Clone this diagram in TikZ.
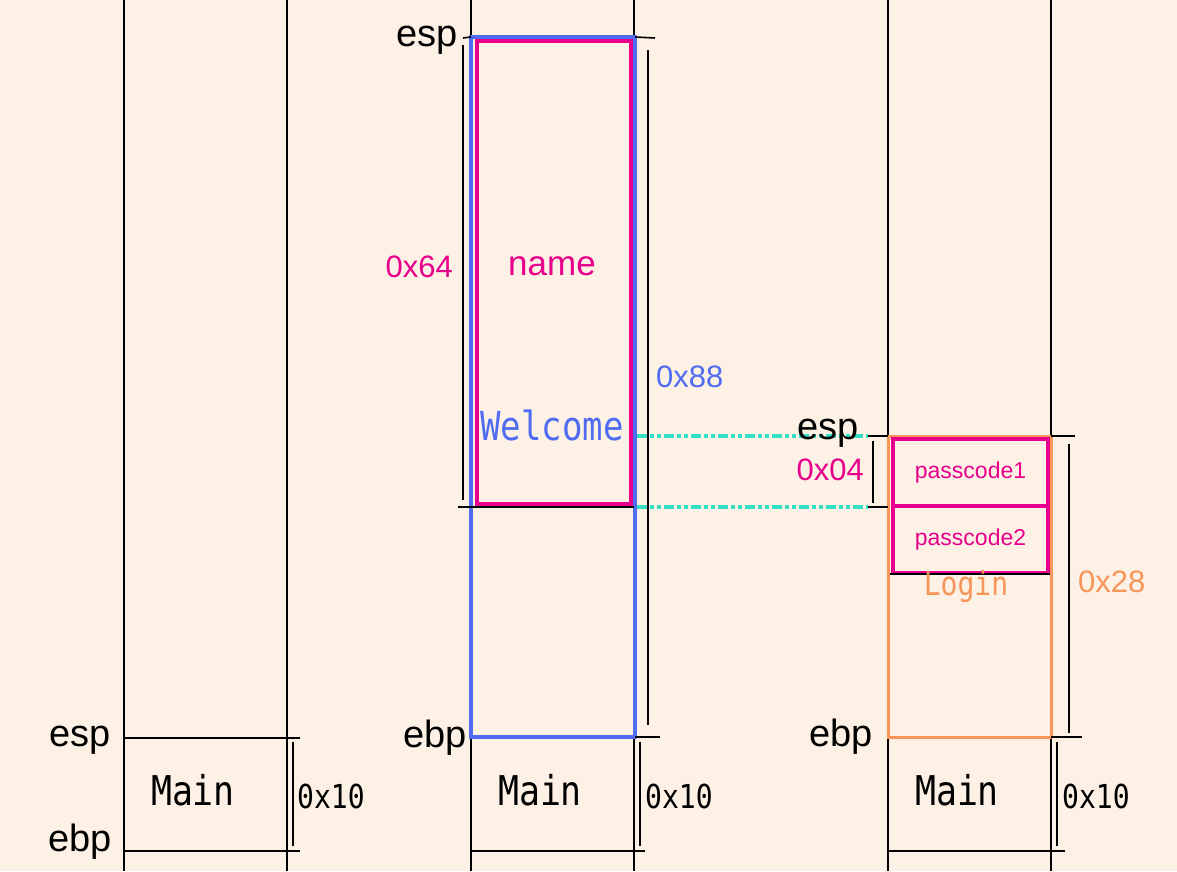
\documentclass[tikz,border=0pt]{standalone}
\usepackage{fontspec}
\setmainfont[FakeStretch=0.85]{DejaVu Sans Mono}
\newfontfamily\roundfont{Liberation Sans}
\usetikzlibrary{positioning}
\definecolor{paper}{RGB}{253,241,229}
\definecolor{stackblue}{RGB}{80,108,240}
\definecolor{stackpink}{RGB}{232,0,140}
\definecolor{stackorange}{RGB}{248,150,90}
\definecolor{stackcyan}{RGB}{50,222,196}

\begin{document}
\begin{tikzpicture}[x=1pt,y=-1pt,
  wall/.style={black,line width=1.6pt},
  dimline/.style={black,line width=2pt},
  frame/.style={draw,rectangle,inner sep=0pt,outer sep=0pt,anchor=north west},
  reg/.style={font=\roundfont\fontsize{38}{42}\selectfont,anchor=base east,inner sep=0pt},
  fname/.style={font=\fontsize{41}{46}\selectfont,anchor=base,inner sep=0pt},
  size/.style={font=\fontsize{33}{38}\selectfont,inner sep=0pt},
  rsize/.style={font=\roundfont\fontsize{31}{36}\selectfont,inner sep=0pt},
  link/.style={stackcyan,line width=3.2pt,dash pattern=on 10pt off 3pt on 4pt off 3pt on 4pt off 3pt}]
  \useasboundingbox (0,0) rectangle (1177,871);
  \fill[paper] (0,0) rectangle (1177,871);
  % stack walls
  \foreach \x in {124,287,471,634,888,1051}
    \draw[wall] (\x,0) -- (\x,871);

  % first stack: only main
  \draw[wall] (124,738) -- (300,738);
  \draw[wall] (124,851) -- (300,851);
  \draw[dimline] (293,742) -- (293,846);
  \node[reg] (espA) at (111,746) {esp};
  \node[reg] (ebpA) at (112,851) {ebp};
  \node[fname] (mainA) at (193,805) {Main};
  \node[size,anchor=base west] (sizeA) at (297,808) {0x10};

  % second stack: welcome frame
  \node[frame,draw=stackblue,line width=3.5pt,minimum width=164,minimum height=700] (frameB) at (471,37) {};
  \node[frame,draw=stackpink,line width=4pt,minimum width=154,minimum height=463] (nameB) at (477,41) {};
  \draw[wall] (463,38) -- (frameB.north west);
  \draw[wall] (frameB.north east) -- (655,38);
  \draw[dimline] (463,45) -- (463,500);
  \draw[dimline] (648,50) -- (648,725);
  \draw[wall] (458,507) -- (634,507);
  \draw[wall] (frameB.south east) -- (660,737);
  \draw[dimline] (640,742) -- (640,846);
  \draw[wall] (471,851) -- (645,851);
  \node[reg] (espB) at (458,46) {esp};
  \node[reg] (ebpB) at (467,747) {ebp};
  \node[rsize,anchor=base east,text=stackpink] (sizeName) at (453,277) {0x64};
  \node[fname,text=stackpink,font=\roundfont\fontsize{35}{40}\selectfont] (nameText) at (552,275) {name};
  \node[rsize,anchor=base west,text=stackblue] (sizeB) at (656,387) {0x88};
  \node[fname,text=stackblue,font=\fontsize{40}{44}\selectfont] (welcome) at (552,440) {Welcome};
  \node[fname] (mainB) at (540,805) {Main};
  \node[size,anchor=base west] (sizeMainB) at (645,808) {0x10};

  % third stack: login frame
  \coordinate (espTick) at (868,436);
  \coordinate (midTick) at (868,507);
  \draw[link] (637,436) -- (espTick);
  \draw[link] (637,507) -- (midTick);
  \node[frame,draw=stackorange,line width=3pt,minimum width=163,minimum height=301] (frameC) at (888,436) {};
  \node[frame,draw=stackpink,line width=4pt,minimum width=155,minimum height=67,
    font=\roundfont\fontsize{23}{26}\selectfont,text=stackpink] (passA) at (893,439) {passcode1};
  \node[frame,draw=stackpink,line width=4pt,minimum width=155,minimum height=67,
    font=\roundfont\fontsize{23}{26}\selectfont,text=stackpink] (passB) at (893,506) {passcode2};
  \draw[wall] (890,574) -- (1050,574);
  \draw[wall] (espTick) -- (frameC.north west);
  \draw[wall] (frameC.north east) -- (1075,436);
  \draw[wall] (midTick) -- (888,507);
  \draw[wall] (frameC.south east) -- (1082,737);
  \draw[dimline] (873,441) -- (873,503);
  \draw[dimline] (1069,444) -- (1069,733);
  \draw[dimline] (1057,742) -- (1057,846);
  \draw[wall] (888,851) -- (1065,851);
  \node[reg] (espC) at (859,439) {esp};
  \node[reg] (ebpC) at (873,746) {ebp};
  \node[rsize,anchor=base east,text=stackpink] (sizePass) at (864,480) {0x04};
  \node[size,anchor=base,text=stackorange] (login) at (966,595) {Login};
  \node[rsize,anchor=base west,text=stackorange] (sizeC) at (1078,592) {0x28};
  \node[fname] (mainC) at (957,805) {Main};
  \node[size,anchor=base west] (sizeMainC) at (1062,808) {0x10};
\end{tikzpicture}
\end{document}
